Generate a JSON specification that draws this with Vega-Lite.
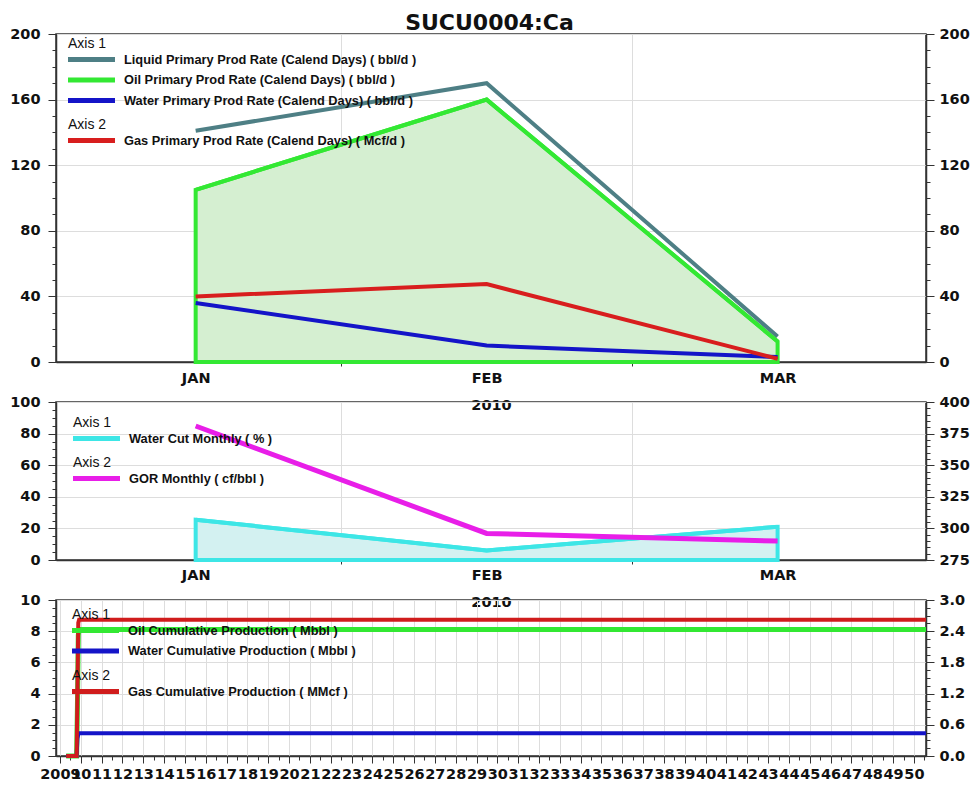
{
  "$schema": "https://vega.github.io/schema/vega-lite/v6.json",
  "padding": {"left": 8, "top": 11, "right": 5, "bottom": 0},
  "title": {"text": "SUCU0004:Ca", "font": "DejaVu Sans", "fontSize": 22, "fontWeight": "bold", "color": "#111", "anchor": "middle", "offset": -9.5},
  "datasets": {
    "rates": [
      {"k": "liq", "s": "Liquid Primary Prod Rate (Calend Days) ( bbl/d )", "m": 1, "v": 141},
      {"k": "liq", "s": "Liquid Primary Prod Rate (Calend Days) ( bbl/d )", "m": 2, "v": 170},
      {"k": "liq", "s": "Liquid Primary Prod Rate (Calend Days) ( bbl/d )", "m": 3, "v": 15.5},
      {"k": "oil", "s": "Oil Primary Prod Rate (Calend Days) ( bbl/d )", "m": 1, "v": 105},
      {"k": "oil", "s": "Oil Primary Prod Rate (Calend Days) ( bbl/d )", "m": 2, "v": 160},
      {"k": "oil", "s": "Oil Primary Prod Rate (Calend Days) ( bbl/d )", "m": 3, "v": 12.5},
      {"k": "wat", "s": "Water Primary Prod Rate (Calend Days) ( bbl/d )", "m": 1, "v": 36},
      {"k": "wat", "s": "Water Primary Prod Rate (Calend Days) ( bbl/d )", "m": 2, "v": 10},
      {"k": "wat", "s": "Water Primary Prod Rate (Calend Days) ( bbl/d )", "m": 3, "v": 3},
      {"k": "gas", "s": "Gas Primary Prod Rate (Calend Days) ( Mcf/d )", "m": 1, "v": 40},
      {"k": "gas", "s": "Gas Primary Prod Rate (Calend Days) ( Mcf/d )", "m": 2, "v": 47.5},
      {"k": "gas", "s": "Gas Primary Prod Rate (Calend Days) ( Mcf/d )", "m": 3, "v": 2}
    ],
    "ratios": [
      {"k": "wc", "s": "Water Cut Monthly ( % )", "m": 1, "v": 25.5},
      {"k": "wc", "s": "Water Cut Monthly ( % )", "m": 2, "v": 6},
      {"k": "wc", "s": "Water Cut Monthly ( % )", "m": 3, "v": 21},
      {"k": "gor", "s": "GOR Monthly ( cf/bbl )", "m": 1, "v": 381},
      {"k": "gor", "s": "GOR Monthly ( cf/bbl )", "m": 2, "v": 296},
      {"k": "gor", "s": "GOR Monthly ( cf/bbl )", "m": 3, "v": 290}
    ],
    "cum": [
      {"k": "oc", "s": "Oil Cumulative Production ( Mbbl )", "t": 2009.3, "v": 0},
      {"k": "oc", "s": "Oil Cumulative Production ( Mbbl )", "t": 2009.8, "v": 0},
      {"k": "oc", "s": "Oil Cumulative Production ( Mbbl )", "t": 2009.84, "v": 3.26},
      {"k": "oc", "s": "Oil Cumulative Production ( Mbbl )", "t": 2009.88, "v": 7.74},
      {"k": "oc", "s": "Oil Cumulative Production ( Mbbl )", "t": 2009.92, "v": 8.11},
      {"k": "oc", "s": "Oil Cumulative Production ( Mbbl )", "t": 2050.58, "v": 8.11},
      {"k": "wac", "s": "Water Cumulative Production ( Mbbl )", "t": 2009.3, "v": 0},
      {"k": "wac", "s": "Water Cumulative Production ( Mbbl )", "t": 2009.8, "v": 0},
      {"k": "wac", "s": "Water Cumulative Production ( Mbbl )", "t": 2009.84, "v": 1.12},
      {"k": "wac", "s": "Water Cumulative Production ( Mbbl )", "t": 2009.88, "v": 1.4},
      {"k": "wac", "s": "Water Cumulative Production ( Mbbl )", "t": 2009.92, "v": 1.46},
      {"k": "wac", "s": "Water Cumulative Production ( Mbbl )", "t": 2050.58, "v": 1.46},
      {"k": "gc", "s": "Gas Cumulative Production ( MMcf )", "t": 2009.3, "v": 0},
      {"k": "gc", "s": "Gas Cumulative Production ( MMcf )", "t": 2009.8, "v": 0},
      {"k": "gc", "s": "Gas Cumulative Production ( MMcf )", "t": 2009.84, "v": 1.24},
      {"k": "gc", "s": "Gas Cumulative Production ( MMcf )", "t": 2009.88, "v": 2.56},
      {"k": "gc", "s": "Gas Cumulative Production ( MMcf )", "t": 2009.92, "v": 2.62},
      {"k": "gc", "s": "Gas Cumulative Production ( MMcf )", "t": 2050.58, "v": 2.62}
    ]
  },
  "bounds": "flush",
  "spacing": 40,
  "resolve": {"scale": {"color": "independent", "stroke": "independent"}},
  "vconcat": [
    {
      "width": 870,
      "height": 328,
      "data": {"name": "rates"},
      "layer": [
        {
          "transform": [{"filter": "datum.k == 'oil'"}],
          "mark": {"type": "area", "fill": "#d5efd1", "stroke": "#33e833", "strokeWidth": 4},
          "encoding": {
            "x": {"field": "m", "type": "quantitative", "scale": {"domain": [0.52, 3.51], "nice": false, "zero": false},
              "axis": {"orient": "bottom", "values": [1, 2, 3], "labelExpr": "datum.value == 1 ? 'JAN' : datum.value == 2 ? 'FEB' : 'MAR'", "ticks": false, "grid": false, "labelPadding": 9, "labelFlush": false, "title": "2010", "titleY": 43, "titleBaseline": "middle"}},
            "y": {"field": "v", "type": "quantitative", "scale": {"domain": [0, 200], "nice": false},
              "axis": {"orient": "left", "values": [0, 40, 80, 120, 160, 200], "grid": true, "tickSize": 8, "labelPadding": 8, "title": null}}
          }
        },
        {
          "transform": [{"filter": "datum.k == 'liq' || datum.k == 'oil'"}],
          "mark": {"type": "line", "strokeWidth": 4},
          "encoding": {
            "x": {"field": "m", "type": "quantitative", "scale": {"domain": [0.52, 3.51], "nice": false, "zero": false},
              "axis": {"orient": "bottom", "values": [1.5, 2.5], "grid": true, "labels": false, "domain": false, "tickSize": 4, "title": null}},
            "y": {"field": "v", "type": "quantitative", "scale": {"domain": [0, 200], "nice": false},
              "axis": {"orient": "left", "values": [0, 10, 20, 30, 40, 50, 60, 70, 80, 90, 100, 110, 120, 130, 140, 150, 160, 170, 180, 190, 200], "labels": false, "domain": false, "grid": false, "tickSize": 4, "title": null}},
            "color": {"field": "s", "type": "nominal",
              "scale": {"domain": ["Liquid Primary Prod Rate (Calend Days) ( bbl/d )", "Oil Primary Prod Rate (Calend Days) ( bbl/d )", "Water Primary Prod Rate (Calend Days) ( bbl/d )"], "range": ["#4e7f85", "#33e833", "#1414c8"]},
              "legend": {"title": "Axis 1", "orient": "none", "legendX": 12, "legendY": 3}}
          }
        },
        {
          "transform": [{"filter": "datum.k == 'wat'"}],
          "mark": {"type": "line", "strokeWidth": 4},
          "encoding": {
            "x": {"field": "m", "type": "quantitative", "scale": {"domain": [0.52, 3.51], "nice": false, "zero": false}, "axis": null},
            "y": {"field": "v", "type": "quantitative", "scale": {"domain": [0, 200], "nice": false},
              "axis": {"orient": "right", "values": [0, 40, 80, 120, 160, 200], "grid": false, "tickSize": 8, "labelPadding": 5, "title": null}},
            "color": {"field": "s", "type": "nominal",
              "scale": {"domain": ["Liquid Primary Prod Rate (Calend Days) ( bbl/d )", "Oil Primary Prod Rate (Calend Days) ( bbl/d )", "Water Primary Prod Rate (Calend Days) ( bbl/d )"], "range": ["#4e7f85", "#33e833", "#1414c8"]},
              "legend": {"title": "Axis 1", "orient": "none", "legendX": 12, "legendY": 3}}
          }
        },
        {
          "transform": [{"filter": "datum.k == 'gas'"}],
          "mark": {"type": "line", "strokeWidth": 4},
          "encoding": {
            "x": {"field": "m", "type": "quantitative", "scale": {"domain": [0.52, 3.51], "nice": false, "zero": false}, "axis": null},
            "y": {"field": "v", "type": "quantitative", "scale": {"domain": [0, 200], "nice": false},
              "axis": {"orient": "right", "values": [0, 10, 20, 30, 40, 50, 60, 70, 80, 90, 100, 110, 120, 130, 140, 150, 160, 170, 180, 190, 200], "labels": false, "domain": false, "grid": false, "tickSize": 4, "title": null}},
            "stroke": {"field": "s", "type": "nominal",
              "scale": {"domain": ["Gas Primary Prod Rate (Calend Days) ( Mcf/d )"], "range": ["#d81e1e"]},
              "legend": {"title": "Axis 2", "orient": "none", "legendX": 12, "legendY": 84}}
          }
        }
      ],
      "resolve": {"scale": {"x": "independent", "y": "independent"}}
    },
    {
      "width": 870,
      "height": 158,
      "data": {"name": "ratios"},
      "layer": [
        {
          "transform": [{"filter": "datum.k == 'wc'"}],
          "mark": {"type": "area", "fill": "#d3f1f1", "stroke": "#3de6e6", "strokeWidth": 4},
          "encoding": {
            "x": {"field": "m", "type": "quantitative", "scale": {"domain": [0.52, 3.51], "nice": false, "zero": false},
              "axis": {"orient": "bottom", "values": [1, 2, 3], "labelExpr": "datum.value == 1 ? 'JAN' : datum.value == 2 ? 'FEB' : 'MAR'", "ticks": false, "grid": false, "labelPadding": 8, "labelFlush": false, "title": "2010", "titleY": 42, "titleBaseline": "middle"}},
            "y": {"field": "v", "type": "quantitative", "scale": {"domain": [0, 100], "nice": false},
              "axis": {"orient": "left", "values": [0, 20, 40, 60, 80, 100], "grid": true, "tickSize": 8, "labelPadding": 8, "title": null}}
          }
        },
        {
          "transform": [{"filter": "datum.k == 'wc'"}],
          "mark": {"type": "line", "strokeWidth": 4},
          "encoding": {
            "x": {"field": "m", "type": "quantitative", "scale": {"domain": [0.52, 3.51], "nice": false, "zero": false},
              "axis": {"orient": "bottom", "values": [1.5, 2.5], "grid": true, "labels": false, "domain": false, "tickSize": 4, "title": null}},
            "y": {"field": "v", "type": "quantitative", "scale": {"domain": [0, 100], "nice": false},
              "axis": {"orient": "left", "values": [0, 5, 10, 15, 20, 25, 30, 35, 40, 45, 50, 55, 60, 65, 70, 75, 80, 85, 90, 95, 100], "labels": false, "domain": false, "grid": false, "tickSize": 4, "title": null}},
            "color": {"field": "s", "type": "nominal",
              "scale": {"domain": ["Water Cut Monthly ( % )"], "range": ["#3de6e6"]},
              "legend": {"title": "Axis 1", "orient": "none", "legendX": 17, "legendY": 14}}
          }
        },
        {
          "transform": [{"filter": "datum.k == 'gor'"}],
          "mark": {"type": "line", "strokeWidth": 5},
          "encoding": {
            "x": {"field": "m", "type": "quantitative", "scale": {"domain": [0.52, 3.51], "nice": false, "zero": false}, "axis": null},
            "y": {"field": "v", "type": "quantitative", "scale": {"domain": [275, 400], "nice": false, "zero": false},
              "axis": {"orient": "right", "values": [275, 300, 325, 350, 375, 400], "grid": false, "tickSize": 8, "labelPadding": 5, "title": null}},
            "stroke": {"field": "s", "type": "nominal",
              "scale": {"domain": ["GOR Monthly ( cf/bbl )"], "range": ["#e81ee8"]},
              "legend": {"title": "Axis 2", "orient": "none", "legendX": 17, "legendY": 54}}
          }
        },
        {
          "transform": [{"filter": "datum.k == 'gor'"}],
          "mark": {"type": "line", "strokeWidth": 1, "opacity": 0},
          "encoding": {
            "x": {"field": "m", "type": "quantitative", "scale": {"domain": [0.52, 3.51], "nice": false, "zero": false}, "axis": null},
            "y": {"field": "v", "type": "quantitative", "scale": {"domain": [275, 400], "nice": false, "zero": false},
              "axis": {"orient": "right", "values": [275, 280, 285, 290, 295, 300, 305, 310, 315, 320, 325, 330, 335, 340, 345, 350, 355, 360, 365, 370, 375, 380, 385, 390, 395, 400], "labels": false, "domain": false, "grid": false, "tickSize": 4, "title": null}}
          }
        }
      ],
      "resolve": {"scale": {"x": "independent", "y": "independent"}}
    },
    {
      "width": 870,
      "height": 156,
      "data": {"name": "cum"},
      "layer": [
        {
          "transform": [{"filter": "datum.k == 'oc'"}],
          "mark": {"type": "line", "strokeWidth": 5},
          "encoding": {
            "x": {"field": "t", "type": "quantitative", "scale": {"domain": [2008.81, 2050.58], "nice": false, "zero": false},
              "axis": {"orient": "bottom", "values": [2009, 2010, 2011, 2012, 2013, 2014, 2015, 2016, 2017, 2018, 2019, 2020, 2021, 2022, 2023, 2024, 2025, 2026, 2027, 2028, 2029, 2030, 2031, 2032, 2033, 2034, 2035, 2036, 2037, 2038, 2039, 2040, 2041, 2042, 2043, 2044, 2045, 2046, 2047, 2048, 2049, 2050], "format": "d", "labelExpr": "datum.value == 2009 ? datum.label : substring(datum.label, 2)", "grid": true, "tickSize": 7, "labelPadding": 4, "labelFlush": false, "labelOverlap": false, "labelBound": false, "title": null}},
            "y": {"field": "v", "type": "quantitative", "scale": {"domain": [0, 10], "nice": false},
              "axis": {"orient": "left", "values": [0, 2, 4, 6, 8, 10], "grid": true, "tickSize": 8, "labelPadding": 8, "title": null}},
            "color": {"field": "s", "type": "nominal",
              "scale": {"domain": ["Oil Cumulative Production ( Mbbl )", "Water Cumulative Production ( Mbbl )"], "range": ["#33e833", "#1414c8"]},
              "legend": {"title": "Axis 1", "orient": "none", "legendX": 16, "legendY": 8}}
          }
        },
        {
          "transform": [{"filter": "datum.k == 'wac'"}],
          "mark": {"type": "line", "strokeWidth": 4},
          "encoding": {
            "x": {"field": "t", "type": "quantitative", "scale": {"domain": [2008.81, 2050.58], "nice": false, "zero": false},
              "axis": {"orient": "bottom", "values": [2009.5, 2010.5, 2011.5, 2012.5, 2013.5, 2014.5, 2015.5, 2016.5, 2017.5, 2018.5, 2019.5, 2020.5, 2021.5, 2022.5, 2023.5, 2024.5, 2025.5, 2026.5, 2027.5, 2028.5, 2029.5, 2030.5, 2031.5, 2032.5, 2033.5, 2034.5, 2035.5, 2036.5, 2037.5, 2038.5, 2039.5, 2040.5, 2041.5, 2042.5, 2043.5, 2044.5, 2045.5, 2046.5, 2047.5, 2048.5, 2049.5, 2050.5], "labels": false, "domain": false, "grid": false, "tickSize": 4, "title": null}},
            "y": {"field": "v", "type": "quantitative", "scale": {"domain": [0, 10], "nice": false},
              "axis": {"orient": "left", "values": [0, 0.5, 1, 1.5, 2, 2.5, 3, 3.5, 4, 4.5, 5, 5.5, 6, 6.5, 7, 7.5, 8, 8.5, 9, 9.5, 10], "labels": false, "domain": false, "grid": false, "tickSize": 4, "title": null}},
            "color": {"field": "s", "type": "nominal",
              "scale": {"domain": ["Oil Cumulative Production ( Mbbl )", "Water Cumulative Production ( Mbbl )"], "range": ["#33e833", "#1414c8"]},
              "legend": {"title": "Axis 1", "orient": "none", "legendX": 16, "legendY": 8}}
          }
        },
        {
          "transform": [{"filter": "datum.k == 'gc'"}],
          "mark": {"type": "line", "strokeWidth": 4},
          "encoding": {
            "x": {"field": "t", "type": "quantitative", "scale": {"domain": [2008.81, 2050.58], "nice": false, "zero": false}, "axis": null},
            "y": {"field": "v", "type": "quantitative", "scale": {"domain": [0, 3], "nice": false},
              "axis": {"orient": "right", "values": [0, 0.6, 1.2, 1.8, 2.4, 3], "format": ".1f", "grid": false, "tickSize": 8, "labelPadding": 5, "title": null}},
            "stroke": {"field": "s", "type": "nominal",
              "scale": {"domain": ["Gas Cumulative Production ( MMcf )"], "range": ["#d01c1c"]},
              "legend": {"title": "Axis 2", "orient": "none", "legendX": 16, "legendY": 69}}
          }
        },
        {
          "transform": [{"filter": "datum.k == 'gc'"}],
          "mark": {"type": "line", "strokeWidth": 1, "opacity": 0},
          "encoding": {
            "x": {"field": "t", "type": "quantitative", "scale": {"domain": [2008.81, 2050.58], "nice": false, "zero": false}, "axis": null},
            "y": {"field": "v", "type": "quantitative", "scale": {"domain": [0, 3], "nice": false},
              "axis": {"orient": "right", "values": [0, 0.15, 0.3, 0.45, 0.6, 0.75, 0.9, 1.05, 1.2, 1.35, 1.5, 1.65, 1.8, 1.95, 2.1, 2.25, 2.4, 2.55, 2.7, 2.85, 3], "labels": false, "domain": false, "grid": false, "tickSize": 4, "title": null}}
          }
        }
      ],
      "resolve": {"scale": {"x": "independent", "y": "independent"}}
    }
  ],
  "config": {
    "view": {"stroke": "#333", "strokeWidth": 1.5},
    "axis": {"labelFont": "DejaVu Sans", "labelFontWeight": "bold", "labelFontSize": 14.5, "labelColor": "#111", "labelFlush": false, "domainColor": "#333", "domainWidth": 1.5, "tickColor": "#333", "gridColor": "#dddddd", "titleFont": "DejaVu Sans", "titleFontWeight": "bold", "titleFontSize": 14.5, "titleColor": "#111"},
    "legend": {"symbolType": "M-4,0H4", "symbolSize": 138, "symbolStrokeWidth": 5, "symbolOffset": 15, "labelOffset": 24, "rowPadding": -0.5, "titlePadding": 0, "padding": 0, "titleFont": "Liberation Sans", "titleFontWeight": "normal", "titleFontSize": 14, "titleColor": "#111", "labelFont": "Liberation Sans", "labelFontWeight": "bold", "labelFontSize": 12.8, "labelColor": "#111", "labelLimit": 400}
  }
}
